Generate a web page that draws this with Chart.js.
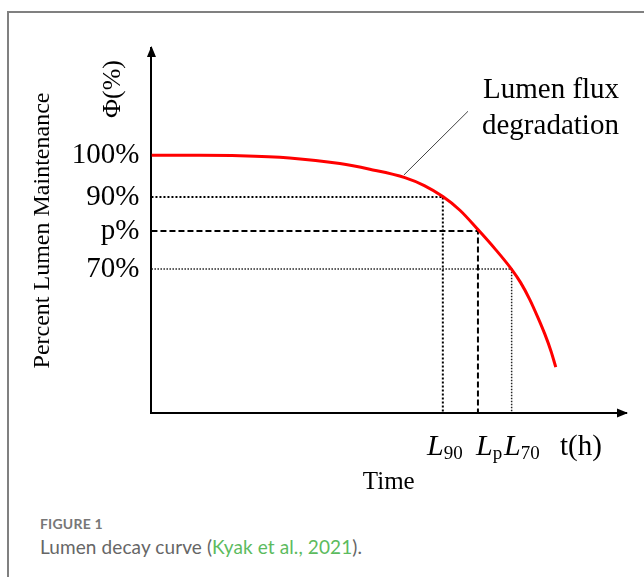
<!DOCTYPE html>
<html>
<head>
<meta charset="utf-8">
<script src="https://cdn.jsdelivr.net/npm/chart.js@4/dist/chart.umd.min.js"></script>
<style>
  html, body { margin: 0; padding: 0; background: #fff; }
  body { width: 644px; height: 577px; position: relative; overflow: hidden; }
  .frame { position: absolute; left: 7px; top: 11px; right: -10px; bottom: -10px;
           border-left: 2px solid #808080; border-top: 2px solid #808080; }
  #wrap { position: absolute; left: 0; top: 0; width: 644px; height: 500px; }
  .fig { position: absolute; left: 40px; top: 515px; font: bold 14px Lato, "Open Sans", sans-serif; color: #777; letter-spacing: 0.2px; }
  .cap { position: absolute; left: 40px; top: 535px; font: 19px Lato, "Open Sans", sans-serif; color: #666; letter-spacing: 0.1px; }
  .cap span { color: #5cbb5e; }
</style>
</head>
<body>
<div class="frame"></div>
<div id="wrap"><canvas id="myChart" width="644" height="500"></canvas></div>
<div class="fig">FIGURE 1</div>
<div class="cap">Lumen decay curve (<span>Kyak et al., 2021</span>).</div>
<script>
// decay curve (time in arbitrary units, flux in %)
var curveX = [0, 10.1, 18.6, 29.1, 39.7, 46.0, 53.4, 57.5, 61.4, 65.0, 68.8, 72.4, 75.9, 77.8, 79.7, 81.4, 82.9, 84.2, 85.2];
var curveY = [100, 100, 99.9, 99.3, 97.8, 96.3, 94.1, 92.0, 89.1, 85.5, 80.4, 75.3, 69.9, 66.4, 62.0, 57.3, 52.8, 48.3, 44.1];

// reference levels 90%, p%, 70% and the lifetimes L90, Lp, L70
var levelY = [89, 80, 70];
var levelX = [61.4, 68.8, 75.9];

var yTickValues = [100, 89, 80, 70];
var yTickLabels = ['100%', '90%', 'p%', '70%'];

// leader line of the "Lumen flux degradation" note
var leaderX = [53.2, 66.7];
var leaderY = [94.8, 111.6];

var yMin = 32, yMax = 128.3, xMin = 0, xMax = 100;

var serif = '"Liberation Serif", "Times New Roman", serif';

function pts(xs, ys) {
  return xs.map(function (x, i) { return { x: x, y: ys[i] }; });
}

// L-shaped guide: from the y axis to the curve, then down to the x axis
function guide(i) {
  return [{ x: xMin, y: levelY[i] }, { x: levelX[i], y: levelY[i] }, { x: levelX[i], y: yMin }];
}

var extras = {
  id: 'extras',
  afterDraw: function (chart) {
    var c = chart.ctx, a = chart.chartArea;
    c.save();
    c.fillStyle = '#000';
    // arrow heads
    c.beginPath();
    c.moveTo(a.left, a.top - 2);
    c.lineTo(a.left - 4.5, a.top + 9);
    c.lineTo(a.left + 4.5, a.top + 9);
    c.closePath();
    c.fill();
    c.beginPath();
    c.moveTo(a.right + 2, a.bottom);
    c.lineTo(a.right - 9, a.bottom - 4.5);
    c.lineTo(a.right - 9, a.bottom + 4.5);
    c.closePath();
    c.fill();

    // Phi(%) on the y axis
    c.save();
    c.translate(113, 89);
    c.rotate(-Math.PI / 2);
    c.font = '26px ' + serif;
    c.textAlign = 'center';
    c.textBaseline = 'middle';
    c.fillText('\u03A6(%)', 0, 0);
    c.restore();

    // note
    c.font = '29px ' + serif;
    c.textAlign = 'left';
    c.textBaseline = 'middle';
    c.fillText('Lumen flux', 483, 90);
    c.fillText('degradation', 482, 126);

    // lifetime labels under the x axis
    var base = 455;
    c.textBaseline = 'alphabetic';
    function lab(x, sub) {
      c.font = 'italic 30px ' + serif;
      c.fillText('L', x, base);
      var w = c.measureText('L').width;
      c.font = '19px ' + serif;
      c.fillText(sub, x + w, base + 4);
    }
    lab(427, '90');
    lab(476, 'p');
    lab(504, '70');
    c.font = '29px ' + serif;
    c.fillText('t(h)', 560, base);
    c.restore();
  }
};

var ctx = document.getElementById('myChart').getContext('2d');
var chart = new Chart(ctx, {
  type: 'line',
  data: {
    datasets: [
      { data: pts(curveX, curveY), borderColor: '#ff0000', borderWidth: 3, cubicInterpolationMode: 'monotone' },
      { data: guide(0), borderColor: '#000', borderWidth: 2, borderDash: [2, 2] },
      { data: guide(1), borderColor: '#000', borderWidth: 2, borderDash: [6, 3] },
      { data: guide(2), borderColor: '#222', borderWidth: 1.5, borderDash: [1.5, 1.5] },
      { data: pts(leaderX, leaderY), borderColor: '#444', borderWidth: 1 }
    ]
  },
  options: {
    responsive: false,
    animation: false,
    elements: { point: { radius: 0 } },
    layout: { padding: { left: 28, top: 48, right: 18, bottom: 0 } },
    plugins: { legend: { display: false }, tooltip: { enabled: false } },
    scales: {
      x: {
        type: 'linear', min: xMin, max: xMax,
        grid: { display: false },
        border: { display: true, color: '#000', width: 2 },
        ticks: { display: false },
        title: { display: true, text: 'Time', color: '#000', font: { family: serif, size: 25 }, padding: { top: 46, bottom: 3 } }
      },
      y: {
        type: 'linear', min: yMin, max: yMax,
        grid: { display: false, drawTicks: false },
        border: { display: true, color: '#000', width: 2 },
        afterBuildTicks: function (s) { s.ticks = yTickValues.map(function (v) { return { value: v }; }); },
        ticks: {
          padding: 12, color: '#000', font: { family: serif, size: 29 },
          callback: function (v) { var i = yTickValues.indexOf(v); return i < 0 ? '' : yTickLabels[i]; }
        },
        title: { display: true, text: 'Percent Lumen Maintenance', color: '#000', font: { family: serif, size: 24 }, padding: { top: 0, bottom: 3 } }
      }
    }
  },
  plugins: [extras]
});
</script>
</body>
</html>
